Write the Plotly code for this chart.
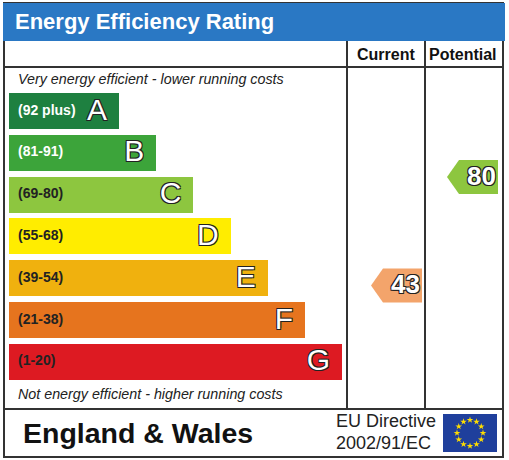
import numpy as np
import plotly.graph_objects as go

# bands, top (most efficient) to bottom
bands = ["A", "B", "C", "D", "E", "F", "G"]
ranges = ["(92 plus)", "(81-91)", "(69-80)", "(55-68)", "(39-54)", "(21-38)", "(1-20)"]
band_colors = ["#1e8040", "#3ca43a", "#8dc63f", "#ffed00", "#f0b10e", "#e6741e", "#dd1a22"]
range_text_colors = ["white", "white", "#222", "#222", "#222", "#222", "#222"]

current_rating = 43
potential_rating = 80
current_color = "#f3a46b"
potential_color = "#8dc63f"

W, H = 509, 460
FONT = "Liberation Sans, Arial, sans-serif"
OUTLINE = "-1px -1px 0 #222, 1px -1px 0 #222, -1px 1px 0 #222, 1px 1px 0 #222"

band_y = [111 + i * 41.8 for i in range(len(bands))]
band_end = [119 + i * 37.2 for i in range(len(bands))]


def rating_y(v):
    # arrows sit at a height proportional to the rating
    return 177 + (80 - v) * 2.93


def arrow(x_tip, y, length=51, half=17, slant=12):
    xs = [x_tip, x_tip + slant, x_tip + length, x_tip + length, x_tip + slant, x_tip]
    ys = [y, y - half, y - half, y + half, y + half, y]
    return xs, ys


fig = go.Figure()

# band bars
fig.add_trace(go.Bar(
    orientation="h", y=band_y, x=[e - 9 for e in band_end], base=9, width=36,
    marker=dict(color=band_colors, line=dict(width=0)), hoverinfo="skip",
))

# range labels
fig.add_trace(go.Scatter(
    x=[18] * len(bands), y=band_y, mode="text", text=ranges, textposition="middle right",
    textfont=dict(family=FONT, size=14, color=range_text_colors, weight="bold"), hoverinfo="skip",
))

# band letters
fig.add_trace(go.Scatter(
    x=[e - 12 for e in band_end], y=[y + 1 for y in band_y], mode="text", text=bands,
    textposition="middle left",
    textfont=dict(family=FONT, size=30, color="white", shadow=OUTLINE), hoverinfo="skip",
))

# rating arrows
for v, x_tip, col in [(current_rating, 371, current_color), (potential_rating, 447, potential_color)]:
    xs, ys = arrow(x_tip, rating_y(v))
    fig.add_trace(go.Scatter(x=xs, y=ys, fill="toself", fillcolor=col, mode="lines",
                             line=dict(width=0, color=col), hoverinfo="skip"))
    fig.add_trace(go.Scatter(
        x=[x_tip + 49], y=[rating_y(v) + 1], mode="text", text=[str(v)], textposition="middle left",
        textfont=dict(family=FONT, size=26, color="white", weight="bold", shadow=OUTLINE),
        hoverinfo="skip",
    ))

# EU flag stars
ang = np.linspace(0, 2 * np.pi, 13)[:-1]
fig.add_trace(go.Scatter(
    x=470 + 13 * np.sin(ang), y=433 - 13 * np.cos(ang), mode="markers",
    marker=dict(symbol="star", size=5, color="#ffdd00", line=dict(width=0)), hoverinfo="skip",
))

line = dict(color="#333", width=2)
shapes = [
    dict(type="rect", x0=4, y0=3, x1=503, y1=457, line=line, layer="below"),
    dict(type="rect", x0=3, y0=3, x1=505, y1=41, fillcolor="#2a78c4", line=dict(width=0), layer="below"),
    dict(type="line", x0=4, y0=67, x1=503, y1=67, line=line),
    dict(type="line", x0=4, y0=409, x1=503, y1=409, line=line),
    dict(type="line", x0=347, y0=41, x1=347, y1=409, line=line),
    dict(type="line", x0=425, y0=41, x1=425, y1=409, line=line),
    dict(type="rect", x0=443, y0=414, x1=497, y1=452, fillcolor="#1f3f9c", line=dict(width=0), layer="below"),
]

ann = [
    dict(x=13, y=21, text="<b>Energy Efficiency Rating</b>", xanchor="left",
         font=dict(size=22, color="white")),
    dict(x=386, y=54, text="<b>Current</b>", font=dict(size=16, color="#111")),
    dict(x=463, y=54, text="<b>Potential</b>", font=dict(size=16, color="#111")),
    dict(x=16, y=79, text="<i>Very energy efficient - lower running costs</i>", xanchor="left",
         font=dict(size=14.3, color="#222")),
    dict(x=16, y=394, text="<i>Not energy efficient - higher running costs</i>", xanchor="left",
         font=dict(size=14.3, color="#222")),
    dict(x=21, y=433, text="<b>England & Wales</b>", xanchor="left",
         font=dict(size=28.5, color="#111")),
    dict(x=438, y=421, text="EU Directive", xanchor="right", font=dict(size=18, color="#222")),
    dict(x=433, y=443, text="2002/91/EC", xanchor="right", font=dict(size=18, color="#222")),
]
for a in ann:
    a.update(xref="x", yref="y", showarrow=False, yanchor="middle")
    a["font"]["family"] = FONT

fig.update_layout(
    width=W, height=H, margin=dict(l=0, r=0, t=0, b=0),
    paper_bgcolor="white", plot_bgcolor="white", showlegend=False,
    xaxis=dict(range=[0, W], visible=False, fixedrange=True),
    yaxis=dict(range=[H, 0], visible=False, fixedrange=True),
    shapes=shapes, annotations=ann, bargap=0,
)

fig.write_html("out.html", config={"displayModeBar": False},
               post_script="document.body.style.margin = '0';")
